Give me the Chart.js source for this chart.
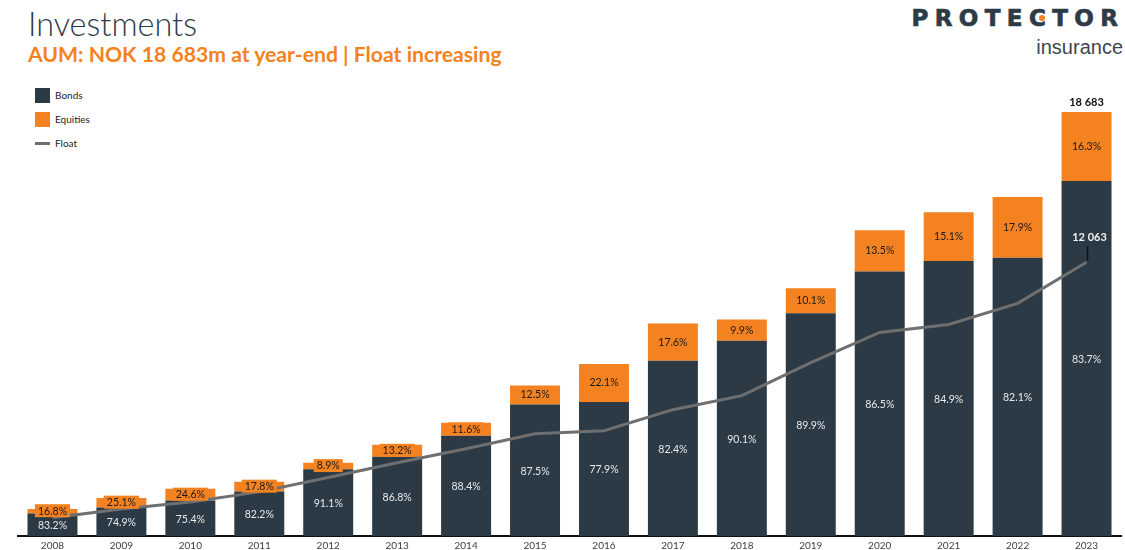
<!DOCTYPE html>
<html>
<head>
<meta charset="utf-8">
<script src="https://cdn.jsdelivr.net/npm/chart.js@4"></script>
<style>
  html, body { margin: 0; padding: 0; background: #fff; }
  body { width: 1125px; height: 550px; overflow: hidden; position: relative; font-family: Lato, "Open Sans", sans-serif; }
  #title { position: absolute; left: 28px; top: 8px; font-family: Lato; font-weight: 300; font-size: 30px; color: #2d3b47; white-space: nowrap; line-height: 1; }
  #subtitle { position: absolute; left: 28px; top: 44px; font-family: Lato; font-weight: 700; font-size: 20px; color: #f58220; white-space: nowrap; line-height: 1; }
  #brand { position: absolute; right: 7px; top: 7px; font-family: "DejaVu Sans"; font-weight: 700; font-size: 23px; color: #2d3b47; white-space: nowrap; line-height: 1; -webkit-text-stroke: 0.7px #2d3b47; }
  #brand .c { position: relative; }
  #brand .c::after { content: ""; position: absolute; left: 50%; top: 50%; width: 6px; height: 6px; margin-left: -2px; margin-top: -3px; border-radius: 50%; background: #f58220; }
  #brandSub { position: absolute; right: 2px; top: 37px; font-family: "Liberation Sans"; font-size: 20px; color: #3b4650; white-space: nowrap; line-height: 1; }
  #legend { position: absolute; left: 35px; top: 88px; font-family: Lato; font-size: 10px; color: #222; }
  .item { position: absolute; left: 0; white-space: nowrap; height: 14px; line-height: 14px; }
  .sw { position: absolute; left: 0; top: 0; width: 15px; height: 15px; }
  .ln { position: absolute; left: 0; top: 6px; width: 15px; height: 3px; }
  .item span.t { position: absolute; left: 20px; top: 0; }
  #chartBox { position: absolute; left: 0; top: 0; width: 1125px; height: 560px; }
</style>
</head>
<body>
<div id="title">Investments</div>
<div id="subtitle">AUM: NOK 18 683m at year-end | Float increasing</div>
<div id="brand">PROTE<span class="c">C</span>TOR</div>
<div id="brandSub">insurance</div>
<div id="legend"></div>
<div id="chartBox"><canvas id="chart"></canvas></div>
<script>
// Year-end figures, NOK million
const years = ['2008','2009','2010','2011','2012','2013','2014','2015','2016','2017','2018','2019','2020','2021','2022','2023'];
const totalAum = [1193, 1678, 2076, 2385, 3224, 4019, 4991, 6625, 7575, 9364, 9541, 10910, 13472, 14267, 14929, 18683];
const bondsPct = [83.2, 74.9, 75.4, 82.2, 91.1, 86.8, 88.4, 87.5, 77.9, 82.4, 90.1, 89.9, 86.5, 84.9, 82.1, 83.7];
const equitiesPct = [16.8, 25.1, 24.6, 17.8, 8.9, 13.2, 11.6, 12.5, 22.1, 17.6, 9.9, 10.1, 13.5, 15.1, 17.9, 16.3];
const floatValues = [800, 1193, 1502, 1943, 2580, 3224, 3843, 4505, 4638, 5565, 6184, 7641, 8966, 9320, 10247, 12063];

const COLORS = { bonds: '#2b3a45', equities: '#f58220', float: '#6f6f6f' };

// Each segment is its share of the year-end total
const bondsValues = totalAum.map((t, i) => t * bondsPct[i] / 100);
const equitiesValues = totalAum.map((t, i) => t * equitiesPct[i] / 100);

const fmtThousands = n => String(Math.round(n)).replace(/\B(?=(\d{3})+(?!\d))/g, ' ');

// Legend
const legendItems = [
  { label: 'Bonds', color: COLORS.bonds, kind: 'box' },
  { label: 'Equities', color: COLORS.equities, kind: 'box' },
  { label: 'Float', color: COLORS.float, kind: 'line' }
];
const legendEl = document.getElementById('legend');
legendItems.forEach((it, i) => {
  const d = document.createElement('div');
  d.className = 'item';
  d.style.top = (i * 24) + 'px';
  if (i === 2) d.style.top = '48px';
  const s = document.createElement('div');
  s.className = it.kind === 'box' ? 'sw' : 'ln';
  s.style.background = it.color;
  const t = document.createElement('span');
  t.className = 't';
  t.textContent = it.label;
  d.appendChild(s); d.appendChild(t);
  legendEl.appendChild(d);
});

// Fit header texts to their widths
function fitWidth(el, target) {
  const w = el.getBoundingClientRect().width;
  const fs = parseFloat(getComputedStyle(el).fontSize);
  el.style.fontSize = (fs * target / w) + 'px';
}
fitWidth(document.getElementById('title'), 169);
fitWidth(document.getElementById('subtitle'), 474);
(function () {
  const b = document.getElementById('brand');
  const chars = 9;
  const w = b.getBoundingClientRect().width;
  const ls = (213 - w) / chars;
  b.style.letterSpacing = ls + 'px';
  b.style.right = (7 - ls) + 'px';
})();

const labelPlugin = {
  id: 'segmentLabels',
  afterDatasetsDraw(chart) {
    const ctx = chart.ctx;
    const bondsMeta = chart.getDatasetMeta(0);
    const eqMeta = chart.getDatasetMeta(1);
    const floatMeta = chart.getDatasetMeta(2);
    ctx.save();
    ctx.textAlign = 'center';
    ctx.textBaseline = 'middle';
    // Bond shares
    ctx.font = '10.5px Lato';
    ctx.fillStyle = '#e6e8ea';
    bondsMeta.data.forEach((bar, i) => {
      const y = (bar.y + bar.base) / 2;
      ctx.fillText(bondsPct[i].toFixed(1) + '%', bar.x, y + 1);
    });
    // Equity shares
    eqMeta.data.forEach((bar, i) => {
      const h = bar.base - bar.y;
      const y = (bar.y + bar.base) / 2;
      const txt = equitiesPct[i].toFixed(1) + '%';
      ctx.font = '10.5px Lato';
      if (h < 16) {
        const tw = ctx.measureText(txt).width + 6;
        ctx.fillStyle = COLORS.equities;
        ctx.fillRect(bar.x - tw / 2, y - 7, tw, 13);
      }
      ctx.fillStyle = '#1a1a1a';
      ctx.fillText(txt, bar.x, y);
    });
    // Year-end total on the last bar
    const last = eqMeta.data.length - 1;
    const lastBar = eqMeta.data[last];
    ctx.font = 'bold 11px Lato';
    ctx.fillStyle = '#111';
    ctx.fillText(fmtThousands(totalAum[last]), lastBar.x, lastBar.y - 9);
    // Latest float value with leader line
    const pt = floatMeta.data[floatMeta.data.length - 1];
    ctx.strokeStyle = '#111';
    ctx.lineWidth = 1.5;
    ctx.beginPath();
    ctx.moveTo(pt.x + 1, pt.y - 16);
    ctx.lineTo(pt.x + 1, pt.y - 2);
    ctx.stroke();
    ctx.font = 'bold 11px Lato';
    ctx.fillStyle = '#f2f2f2';
    ctx.fillText(fmtThousands(floatValues[floatValues.length - 1]), pt.x + 3, pt.y - 25);
    ctx.restore();
  }
};

Chart.defaults.font.family = 'Lato';

new Chart(document.getElementById('chart'), {
  type: 'bar',
  data: {
    labels: years,
    datasets: [
      {
        label: 'Bonds', data: bondsValues, backgroundColor: COLORS.bonds,
        stack: 'aum', order: 1, barPercentage: 0.725, categoryPercentage: 1
      },
      {
        label: 'Equities', data: equitiesValues, backgroundColor: COLORS.equities,
        stack: 'aum', order: 1, barPercentage: 0.725, categoryPercentage: 1
      },
      {
        type: 'line', label: 'Float', data: floatValues, stack: 'float', order: 0,
        borderColor: COLORS.float, borderWidth: 3, pointRadius: 0, tension: 0, fill: false
      }
    ]
  },
  options: {
    responsive: true,
    maintainAspectRatio: false,
    animation: false,
    layout: { padding: { top: 82, left: 18, right: 4, bottom: 4 } },
    plugins: { legend: { display: false }, tooltip: { enabled: false } },
    scales: {
      x: {
        stacked: true,
        grid: { display: false, drawTicks: false },
        border: { display: true, color: '#111', width: 2 },
        ticks: { color: '#404040', font: { size: 10 }, padding: 4, maxRotation: 0, autoSkip: false }
      },
      y: {
        stacked: true, display: false, min: 0, max: 20000
      }
    }
  },
  plugins: [labelPlugin]
});
</script>
</body>
</html>
